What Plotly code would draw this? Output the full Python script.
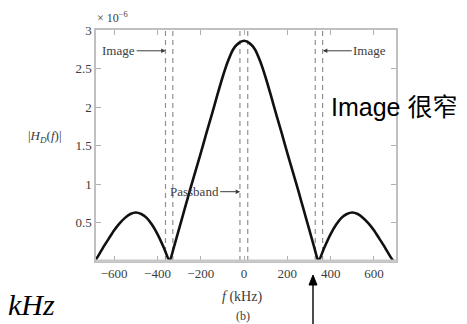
import plotly.graph_objects as go

# Data (magnitude in units of 1e-6)
freq_khz = [-690, -675, -650, -625, -600, -575, -550, -525, -500, -475, -450, -425, -400, -370,
            -344, -325, -300, -275, -250, -225, -200, -175, -150, -125, -100, -75, -50, -25,
            0, 25, 50, 75, 100, 125, 150, 175, 200, 225, 250, 275, 300, 325, 344,
            370, 400, 425, 450, 475, 500, 525, 550, 575, 600, 625, 650, 675, 690]
mag_e6 = [0.0, 0.06, 0.18, 0.29, 0.40, 0.49, 0.56, 0.61, 0.63, 0.61, 0.56, 0.47, 0.35, 0.17,
          0.0, 0.17, 0.42, 0.67, 0.92, 1.16, 1.40, 1.65, 1.89, 2.14, 2.38, 2.59, 2.75, 2.83,
          2.86, 2.83, 2.75, 2.59, 2.38, 2.14, 1.89, 1.65, 1.40, 1.16, 0.92, 0.67, 0.42, 0.17, 0.0,
          0.17, 0.35, 0.47, 0.56, 0.61, 0.63, 0.61, 0.56, 0.49, 0.40, 0.29, 0.18, 0.06, 0.0]

x_ticks = [-600, -400, -200, 0, 200, 400, 600]
x_tick_labels = ["\u2212600", "\u2212400", "\u2212200", "0", "200", "400", "600"]
y_ticks = [0.5, 1, 1.5, 2, 2.5, 3]
y_tick_labels = ["0.5", "1", "1.5", "2", "2.5", "3"]

image_lines = [-363, -329, 329, 363]
passband_lines = [-19, 17]

GRAY = "#3c3c3c"
SERIF = "Liberation Serif, Times New Roman, serif"

# page body has an 8px margin: the figure starts at (8, 8) in the window
OFF = 8
W, H = 467 - OFF, 324 - OFF
# plot area in window pixels (from reference)
PL, PT, PR, PB = 96, 30, 396, 261
L, T = PL - OFF, PT - OFF
R, B = W - (PR - OFF), H - (PB - OFF)
pw, ph = PR - PL, PB - PT


def px(xw, yw):
    """window pixel -> paper coords"""
    return (xw - PL) / pw, (PB - yw) / ph


fig = go.Figure()
fig.add_trace(go.Scatter(x=freq_khz, y=mag_e6, mode="lines",
                         line=dict(color="#111111", width=2.6, shape="spline", smoothing=0.6),
                         showlegend=False))

shapes = []
for xv in image_lines + passband_lines:
    shapes.append(dict(type="line", xref="x", yref="y", x0=xv, x1=xv, y0=0, y1=3,
                       line=dict(color="#909090", width=1.2, dash="5px,4px"), layer="below"))
shapes.append(dict(type="line", xref="paper", yref="paper", x0=0, x1=1, y0=0, y1=0,
                   line=dict(color="#c8c8c8", width=3)))
# vertical pointer arrow below the plot
ax0, ay0 = px(313, 330)
ax1, ay1 = px(313, 284)
shapes.append(dict(type="line", xref="paper", yref="paper", x0=ax0, x1=ax1, y0=ay0, y1=ay1,
                   line=dict(color="#000000", width=1.4)))
h1 = px(309, 285)
h2 = px(317, 285)
h3 = px(313, 275)
shapes.append(dict(type="path", xref="paper", yref="paper",
                   path=f"M {h1[0]},{h1[1]} L {h2[0]},{h2[1]} L {h3[0]},{h3[1]} Z",
                   fillcolor="#000000", line=dict(color="#000000", width=1)))

ann_font = dict(family=SERIF, size=13, color=GRAY)
annotations = [
    dict(x=-362, y=2.73, xref="x", yref="y", text="Image", showarrow=True,
         ax=-47, ay=0, arrowhead=2, arrowsize=0.9,
         arrowwidth=1, arrowcolor=GRAY, font=ann_font),
    dict(x=364, y=2.73, xref="x", yref="y", text="Image", showarrow=True,
         ax=47, ay=0, arrowhead=2, arrowsize=0.9,
         arrowwidth=1, arrowcolor=GRAY, font=ann_font),
    dict(x=-18, y=0.9, xref="x", yref="y", text="Passband", showarrow=True,
         ax=-46, ay=0, arrowhead=2, arrowsize=0.9,
         arrowwidth=1, arrowcolor=GRAY, font=ann_font),
]


def add_text(xw, yw, text, font, xanchor="center"):
    x, y = px(xw, yw)
    annotations.append(dict(x=x, y=y, xref="paper", yref="paper", text=text, showarrow=False,
                            xanchor=xanchor, yanchor="middle", font=font))


add_text(95, 17, "\u00d7 10<sup>\u22126</sup>", dict(family=SERIF, size=12, color=GRAY), "left")
add_text(45, 136, "|<i>H</i><sub><i>D</i></sub>(<i>f</i>)|", dict(family=SERIF, size=13, color=GRAY))
add_text(242, 297, "<i>f</i> (kHz)", dict(family=SERIF, size=14, color=GRAY))
add_text(243, 316, "(b)", dict(family=SERIF, size=12, color=GRAY))
add_text(329, 107, "Image 很窄",
         dict(family="Liberation Sans, Arial, Noto Sans CJK SC, sans-serif", size=25, color="#000000"),
         "left")
add_text(31, 304, "<i>kHz</i>", dict(family=SERIF, size=30, color="#000000"))

fig.update_layout(
    shapes=shapes,
    annotations=annotations,
    width=W, height=H,
    margin=dict(l=L, r=R, t=T, b=B, pad=0),
    paper_bgcolor="white", plot_bgcolor="white",
    xaxis=dict(range=[-684, 702], tickvals=x_ticks, ticktext=x_tick_labels,
               ticks="inside", ticklen=5, tickcolor="#b0b0b0", tickwidth=1,
               showline=True, linecolor="#c0c0c0", linewidth=1.5, mirror="ticks",
               showgrid=False, zeroline=False,
               tickfont=dict(family=SERIF, size=13, color=GRAY)),
    yaxis=dict(range=[0, 3], tickvals=y_ticks, ticktext=y_tick_labels,
               ticks="inside", ticklen=5, tickcolor="#b0b0b0", tickwidth=1,
               showline=True, linecolor="#c0c0c0", linewidth=1.5, mirror="ticks",
               showgrid=False, zeroline=False,
               tickfont=dict(family=SERIF, size=13, color=GRAY)),
)

fig.write_html("out.html")
